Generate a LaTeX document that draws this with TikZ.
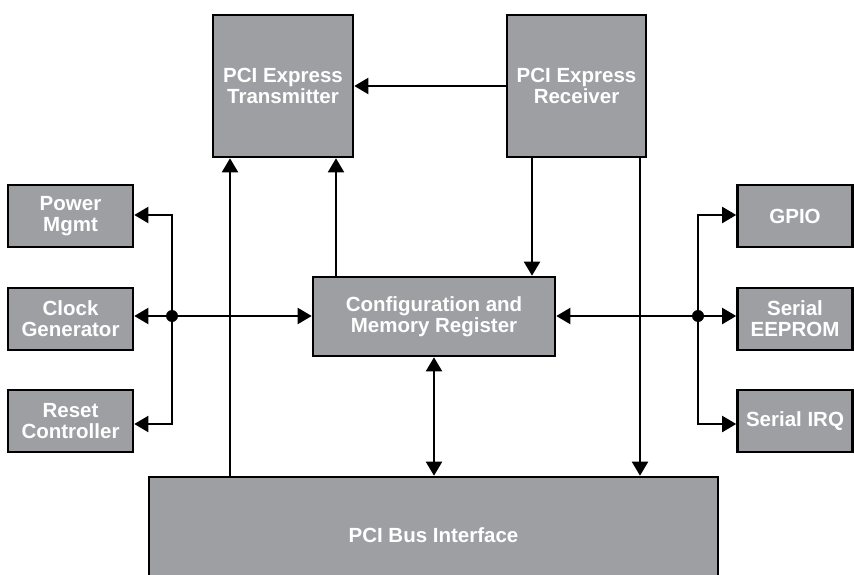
\documentclass[tikz,border=0pt]{standalone}
\usepackage{fontspec}
\setmainfont{Liberation Sans}
\usetikzlibrary{arrows.meta}
\definecolor{boxgray}{RGB}{158,159,163}
\begin{document}
\begin{tikzpicture}[x=1pt,y=-1pt,
  blk/.style={draw=black,line width=2.6pt,fill=boxgray,inner sep=0pt,
    text=white,align=center,
    font=\fontsize{20.5}{21}\selectfont\bfseries},
  arr/.style={line width=2pt,-{Triangle[length=14pt,width=16pt]}},
  arrr/.style={line width=2pt,{Triangle[length=14pt,width=16pt]}-{Triangle[length=14pt,width=16pt]}}]
\useasboundingbox (0,0) rectangle (854,575);
\clip (0,0) rectangle (854,575);
% blocks
\node[blk,minimum width=140pt,minimum height=142pt] (tx) at (283,86) {PCI Express\\Transmitter};
\node[blk,minimum width=139pt,minimum height=142pt] (rx) at (576.5,86) {PCI Express\\Receiver};
\node[blk,minimum width=125pt,minimum height=62pt] (pwr) at (70.5,216) {Power\\Mgmt};
\node[blk,minimum width=125pt,minimum height=62pt] (clk) at (70.5,319) {Clock\\Generator};
\node[blk,minimum width=125pt,minimum height=62pt] (rst) at (70.5,421) {Reset\\Controller};
\node[blk,minimum width=242pt,minimum height=79pt] (cfg) at (434,316.5) {Configuration and\\Memory Register};
\node[blk,minimum width=115pt,minimum height=62pt] (gpio) at (795,216) {GPIO};
\node[blk,minimum width=115pt,minimum height=62pt] (eep) at (795,319) {Serial\\EEPROM};
\node[blk,minimum width=115pt,minimum height=62pt] (irq) at (795,421) {Serial IRQ};
\node[blk,minimum width=569pt,minimum height=116pt] (bus) at (433.5,535) {PCI Bus Interface};
% junctions
\coordinate (jl) at (172,316);
\coordinate (jr) at (698,316);
% connectors
\draw[arr] (rx.west) -- (tx.east);
\draw[arr] ([xshift=-53pt]tx.south |- bus.north) -- ([xshift=-53pt]tx.south);
\draw[arr] ([xshift=53pt]tx.south |- cfg.north) -- ([xshift=53pt]tx.south);
\draw[arr] ([xshift=-44.5pt]rx.south) -- ([xshift=-44.5pt]rx.south |- cfg.north);
\draw[arr] ([xshift=63.5pt]rx.south) -- ([xshift=63.5pt]rx.south |- bus.north);
\draw[arrr] (cfg.south) -- (cfg.south |- bus.north);
\draw[arr] (jl) -- (clk.east |- jl);
\draw[arr] (jl) -- (cfg.west |- jl);
\draw[arr] (jl) |- ([yshift=1pt]pwr.east);
\draw[arr] (jl) |- ([yshift=-3pt]rst.east);
\draw[arr] (jr) -- (cfg.east |- jr);
\draw[arr] (jr) -- (eep.west |- jr);
\draw[arr] (jr) |- ([yshift=1pt]gpio.west);
\draw[arr] (jr) |- ([yshift=-3pt]irq.west);
\fill (jl) circle (6pt);
\fill (jr) circle (6pt);
\end{tikzpicture}
\end{document}
